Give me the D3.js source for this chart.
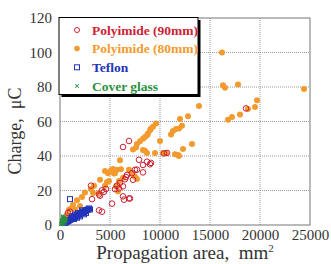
<!DOCTYPE html>
<html>
<head>
<meta charset="utf-8">
<script src="https://cdn.jsdelivr.net/npm/d3@7"></script>
<style>
  body { margin: 0; background: #fff; }
  svg { display: block; }
</style>
</head>
<body>
<figure id="chart" style="margin:0"></figure>
<script>
// tick values
var xTicks = [0, 5000, 10000, 15000, 20000, 25000];
var yTicks = [0, 20, 40, 60, 80, 100, 120];

// series: [propagation area mm2, charge uC]
var polyimide90 = [
  [6900,48.7],[6300,45.2],[10700,41.8],[10400,41.5],[18600,67.6],
  [8700,36.7],[9000,35.2],[8300,34.8],[7900,37.8],[7700,32.1],[7500,32],[8300,30.5],[9100,36],
  [6600,27.8],[6700,29],[6500,26.5],[6000,24.4],[5700,22.8],[6300,22.4],[5900,21.2],[5500,20.8],
  [4600,20.9],[4200,20.1],[4400,19.3],[3900,17.7],[4000,17],
  [6300,16.6],[6400,14.7],[6900,15.4],[7000,15.4],[5200,12.4],[3900,8.5],[4200,7.7],
  [3100,22.8],[3200,15],[1000,7.7],[800,7],[7300,26.2],[7200,30]
];
var polyimide80 = [
  [16200,100],[16300,81],[16500,79.6],[17800,81.5],[24400,78.9],
  [19700,72.3],[19500,68.4],[18800,67.3],[18000,64],[17200,62.6],[16800,61],
  [13900,69],[12800,63],[12000,61.5],[12200,57.5],[11900,56],[11300,54.5],[11100,52.5],[11600,55.7],
  [13200,47],[12300,44],[11900,40],[11500,41],[11800,40.6],
  [10000,48.7],[9600,58.8],[9300,57],[9000,55],[8800,53],[8700,52],[8300,50],[8000,48.6],[7700,47],
  [7300,43.7],[7600,45],[8500,51],[9100,56],
  [10300,41.7],[9500,41.7],[8700,41.7],[8300,43.5],[8500,43],[10600,41.8],
  [6000,37.5],[5400,29.8],[5100,31.7],[4500,31.3],[5700,32],[6100,32.3],[4800,30],[5300,32.4],[5500,30],
  [6900,32],[7200,29.7],[7500,28],[7700,26.7],
  [6300,27.4],[5900,25.5],[4700,25],[4000,26.3],[4900,25.5],[4500,22.8],[3400,22.8],[3100,20.9],
  [2500,18.9],[3300,18.6],[2200,16.2],[1700,14.3],[1300,11.6],[1100,9.6],[900,8.9],[670,5.8],
  [3900,18.5],[5600,22.5],[5800,19.5],[2000,11],[1500,9]
];
var teflon = [
  [1000,15],[2900,9.6],[2800,9],[2700,8.8],[2600,8.5],[2500,8],[2400,7.5],[2300,7.8],[2200,7],
  [2100,6.8],[2000,6.5],[1900,6],[1800,5.5],[1700,5.8],[1600,5],[1500,4.6],[1400,4.8],[1300,4],
  [1200,3.6],[1100,3.3],[1000,3],[900,2.6],[800,2.2],[700,2],[600,1.6],[500,1.2],[2000,5],
  [1800,7],[1500,6],[2600,7],[3000,9],[1200,5],[2200,8.5],[1700,4.2],[1400,3.5],[2400,6.2]
];
var coverGlass = [
  [100,0.5],[150,1],[200,2],[250,3],[300,1.5],[350,2.5],[400,3.5],[450,2],[300,4],[200,1],
  [500,3],[550,2.5],[150,2.5],[250,0.5],[400,1],[350,4.5],[600,3],[450,4],[250,5]
];
var legendLabels = ["Polyimide (90mm)", "Polyimide (80mm)", "Teflon", "Cover glass"];
var legendColors = ["#cc2233", "#f39a2e", "#2233bb", "#2a9040"];

var width = 331, height = 264;
var plotLeft = 60, plotRight = 310, plotTop = 18, plotBottom = 225;

var svg = d3.select("figure#chart")
  .append("svg")
  .attr("width", width)
  .attr("height", height);

var x = d3.scaleLinear().domain([0, 25000]).range([plotLeft, plotRight]);
var y = d3.scaleLinear().domain([0, 120]).range([plotBottom, plotTop]);

// dotted grid
svg.append("g").selectAll("line")
  .data(xTicks.slice(1, -1))
  .join("line")
  .attr("x1", d => x(d)).attr("x2", d => x(d))
  .attr("y1", plotTop).attr("y2", plotBottom)
  .attr("stroke", "#999").attr("stroke-dasharray", "1,1");
svg.append("g").selectAll("line")
  .data(yTicks.slice(1, -1))
  .join("line")
  .attr("x1", plotLeft).attr("x2", plotRight)
  .attr("y1", d => y(d)).attr("y2", d => y(d))
  .attr("stroke", "#999").attr("stroke-dasharray", "1,1");

// frame
svg.append("rect")
  .attr("x", plotLeft).attr("y", plotTop)
  .attr("width", plotRight - plotLeft).attr("height", plotBottom - plotTop)
  .attr("fill", "none").attr("stroke", "#777");

// axes
var xAxis = svg.append("g")
  .attr("transform", "translate(0," + plotBottom + ")")
  .call(d3.axisBottom(x).tickValues(xTicks).tickSize(0).tickPadding(4).tickFormat(d3.format("d")));
var yAxis = svg.append("g")
  .attr("transform", "translate(" + plotLeft + ",0)")
  .call(d3.axisLeft(y).tickValues(yTicks).tickSize(0).tickPadding(8));
[xAxis, yAxis].forEach(function(a) {
  a.select(".domain").remove();
  a.selectAll("text")
    .attr("font-family", "'Liberation Serif', serif")
    .attr("font-size", 15)
    .attr("fill", "#333");
});

// series
svg.append("g").selectAll("circle")
  .data(polyimide80)
  .join("circle")
  .attr("cx", d => x(d[0])).attr("cy", d => y(d[1]))
  .attr("r", 3)
  .attr("fill", legendColors[1]);

svg.append("g").selectAll("circle")
  .data(polyimide90)
  .join("circle")
  .attr("cx", d => x(d[0])).attr("cy", d => y(d[1]))
  .attr("r", 2.8)
  .attr("fill", "none")
  .attr("stroke", legendColors[0]);

svg.append("g").selectAll("rect")
  .data(teflon)
  .join("rect")
  .attr("x", d => x(d[0]) - 2.5).attr("y", d => y(d[1]) - 2.5)
  .attr("width", 5).attr("height", 5)
  .attr("fill", "none")
  .attr("stroke", legendColors[2]);

svg.append("g").selectAll("path")
  .data(coverGlass)
  .join("path")
  .attr("transform", d => "translate(" + x(d[0]) + "," + y(d[1]) + ") rotate(45)")
  .attr("d", "M-2.5,0H2.5M0,-2.5V2.5")
  .attr("stroke", legendColors[3])
  .attr("stroke-width", 1.2);

// legend box with shadow
var lx = 59, ly = 17.5, lw = 139, lh = 77;
svg.append("rect")
  .attr("x", lx + 2.5).attr("y", ly + 2.5)
  .attr("width", lw).attr("height", lh)
  .attr("fill", "#000");
svg.append("rect")
  .attr("x", lx).attr("y", ly)
  .attr("width", lw).attr("height", lh)
  .attr("fill", "#fff").attr("stroke", "#000");

var rows = [30, 48.5, 67.3, 86];
var lg = svg.append("g");
lg.append("circle").attr("cx", 77).attr("cy", rows[0]).attr("r", 2.5)
  .attr("fill", "none").attr("stroke", legendColors[0]);
lg.append("circle").attr("cx", 77).attr("cy", rows[1]).attr("r", 2.8)
  .attr("fill", legendColors[1]);
lg.append("rect").attr("x", 74.5).attr("y", rows[2] - 2.5).attr("width", 5).attr("height", 5)
  .attr("fill", "none").attr("stroke", legendColors[2]);
lg.append("path")
  .attr("transform", "translate(77," + rows[3] + ") rotate(45)")
  .attr("d", "M-2.5,0H2.5M0,-2.5V2.5")
  .attr("stroke", legendColors[3]);

lg.selectAll("text")
  .data(legendLabels)
  .join("text")
  .attr("x", 92)
  .attr("y", (d, i) => rows[i])
  .attr("dy", "0.35em")
  .attr("font-family", "'Liberation Serif', serif")
  .attr("font-weight", "bold")
  .attr("font-size", 13.5)
  .attr("fill", (d, i) => legendColors[i])
  .text(d => d);

// axis titles
var xt = svg.append("text")
  .attr("x", 185).attr("y", 259)
  .attr("text-anchor", "middle")
  .attr("font-family", "'Liberation Serif', serif")
  .attr("font-size", 19)
  .attr("fill", "#333");
xt.append("tspan").text("Propagation area,\u00a0 mm");
xt.append("tspan").attr("dy", -7).attr("font-size", 11).text("2");

svg.append("text")
  .attr("transform", "translate(21,131) rotate(-90)")
  .attr("text-anchor", "middle")
  .attr("font-family", "'Liberation Serif', serif")
  .attr("font-size", 18)
  .attr("fill", "#333")
  .text("Charge,\u00a0 \u03bcC");
</script>
</body>
</html>
